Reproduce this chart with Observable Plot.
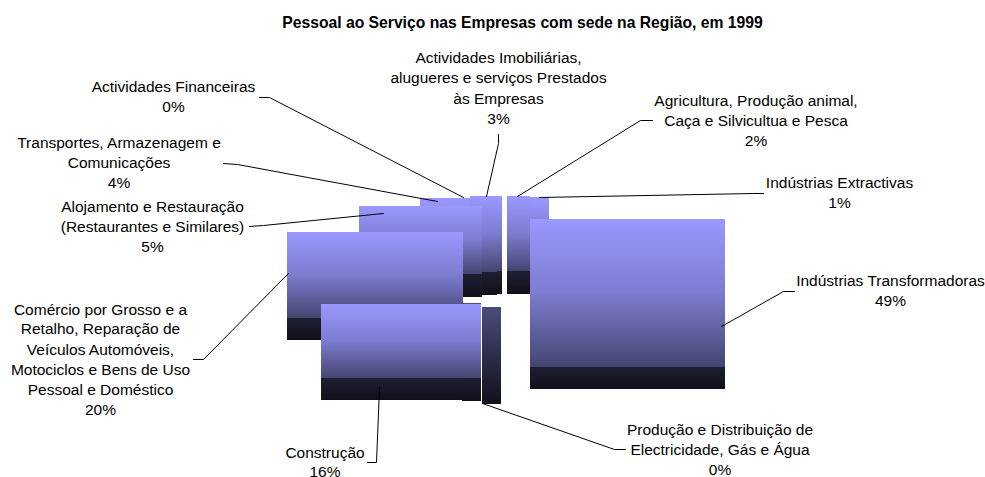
<!DOCTYPE html>
<html>
<head>
<meta charset="utf-8">
<script src="https://cdn.jsdelivr.net/npm/d3@7"></script>
<script src="https://cdn.jsdelivr.net/npm/@observablehq/plot@0.6"></script>
<style>
html,body{margin:0;padding:0;background:#fff}
svg{display:block}
</style>
</head>
<body>
<div id="chart"></div>
<script>
const chartTitle = "Pessoal ao Serviço nas Empresas com sede na Região, em 1999";

// slices
const categories = ["Actividades Financeiras","Transportes","Alojamento","Comércio","Construção","Produção","Transformadoras","Extractivas","Agricultura","Imobiliárias"];
const percents = ["0%","4%","5%","20%","16%","0%","49%","1%","2%","3%"];
const labelLines = [
  ["Actividades Financeiras"],
  ["Transportes, Armazenagem e","Comunicações"],
  ["Alojamento e Restauração","(Restaurantes e Similares)"],
  ["Comércio por Grosso e a","Retalho, Reparação de","Veículos Automóveis,","Motociclos e Bens de Uso","Pessoal e Doméstico"],
  ["Construção"],
  ["Produção e Distribuição de","Electricidade, Gás e Água"],
  ["Indústrias Transformadoras"],
  ["Indústrias Extractivas"],
  ["Agricultura, Produção animal,","Caça e Silvicultua e Pesca"],
  ["Actividades Imobiliárias,","alugueres e serviços Prestados","às Empresas"]
];
const labelX = [173,118.5,152,100,324.5,719.5,890,839,755.5,498];
const labelY = [
  [87,107],[143,163,183],[207,227,247],[310,329,350,370,390,410],
  [453,472],[430,450,470],[281,301],[183,203],[101,121,141],[58,78,99,119]
];
// leader lines, one list of [x,y] per slice
const leaders = [
  [[259,97],[269,97],[463,197]],
  [[223,163],[237,164],[437,201]],
  [[249,226],[263,225],[383,213]],
  [[193,359],[203,359],[288,273]],
  [[367,462],[376,462],[379,387]],
  [[625,449],[614,449],[482,403]],
  [[794,291],[783,291],[721,326]],
  [[763,193],[753,193],[539,197]],
  [[652,120],[640,120],[517,196]],
  [[498,134],[498,143],[486,196]]
];
// faces of the blocks in drawing order: left, right, top, fold, bottom
const faceLeft  = [420,470,497,359,507,530,530,287,462,321,462];
const faceRight = [480,497,502,482,530,549,725,463,481,481,481];
const faceTop   = [198,196,196,206,196,197,219,232,303,304,378];
const faceFold  = [274,272,271,274,271,271,367,318,378,378,378];
const faceBase  = [297,295,294,297,294,294,389,340,401,400,401];
const faceShade = ["light","light","light","light","light","light","light","light","dark","light","light"];
const columnEdge = [{x1:482,x2:501,y1:307,y2:404}];

const faces = faceLeft.map((l,i)=>({l,r:faceRight[i],t:faceTop[i],f:faceFold[i],b:faceBase[i],shade:faceShade[i]}));
const labels = labelLines.flatMap((lines,i)=>[...lines,percents[i]].map((text,j)=>({text,x:labelX[i],y:labelY[i][j]})));
const leaderPts = leaders.flatMap((pts,i)=>pts.map(([x,y])=>({x,y,name:categories[i]})));

const gradients = () => d3.create("svg:defs").html(`
  <linearGradient id="upper" x1="0" y1="0" x2="0" y2="1">
    <stop offset="0" stop-color="#9999ff"/><stop offset="0.5" stop-color="#7c7cd0"/><stop offset="1" stop-color="#454571"/>
  </linearGradient>
  <linearGradient id="dark" x1="0" y1="0" x2="0" y2="1">
    <stop offset="0" stop-color="#4c4c7c"/><stop offset="1" stop-color="#454571"/>
  </linearGradient>
  <linearGradient id="lower" x1="0" y1="0" x2="0" y2="1">
    <stop offset="0" stop-color="#1f1f33"/><stop offset="1" stop-color="#10101a"/>
  </linearGradient>
  <linearGradient id="column" x1="0" y1="0" x2="0" y2="1">
    <stop offset="0" stop-color="#4c4c7c"/><stop offset="0.74" stop-color="#1f1f33"/><stop offset="1" stop-color="#10101a"/>
  </linearGradient>`).node();

const faceMarks = faces.flatMap(d=>[
  Plot.rect([d],{x1:"l",x2:"r",y1:"t",y2:"f",fill:d.shade==="dark"?"url(#dark)":"url(#upper)"}),
  Plot.rect([d],{x1:"l",x2:"r",y1:"f",y2:"b",fill:"url(#lower)"})
]);

const fontFamily = "'Liberation Sans', Arial, sans-serif";
const plot = Plot.plot({
  width:985,height:477,margin:0,
  x:{domain:[0,985],range:[0,985],axis:null},
  y:{domain:[0,477],range:[0,477],axis:null},
  style:{background:"#fff",fontFamily},
  marks:[
    gradients,
    ...faceMarks,
    Plot.rect(columnEdge,{x1:"x1",x2:"x2",y1:"y1",y2:"y2",fill:"url(#column)"}),
    Plot.line(leaderPts,{x:"x",y:"y",z:"name",stroke:"#000",strokeWidth:1,curve:"linear"}),
    Plot.text(labels,{x:"x",y:"y",text:"text",fontSize:15.5,fill:"#000",textAnchor:"middle",lineAnchor:"middle",fontFamily}),
    Plot.text([chartTitle],{x:()=>522,y:()=>22,text:d=>d,fontSize:15.7,fontWeight:"bold",fill:"#000",textAnchor:"middle",lineAnchor:"middle",fontFamily})
  ]
});
document.getElementById("chart").append(plot);
</script>
</body>
</html>
